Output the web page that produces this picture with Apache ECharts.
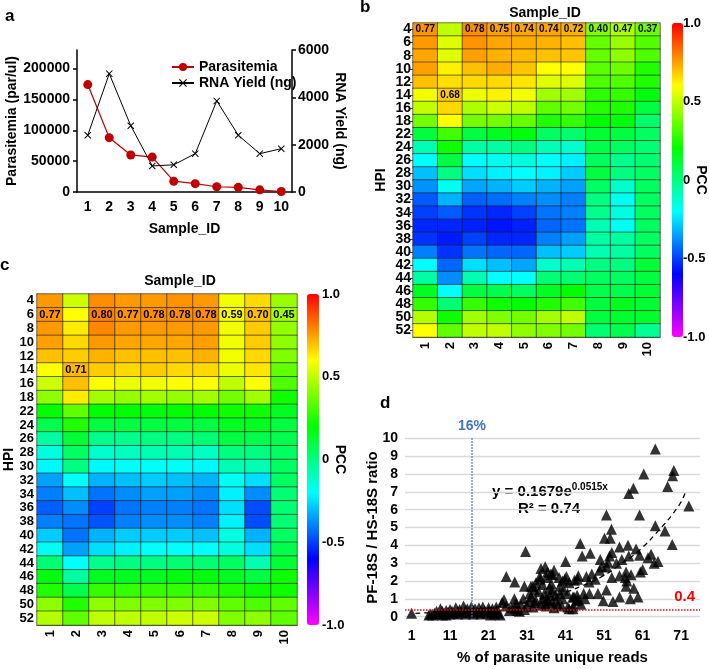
<!DOCTYPE html>
<html><head><meta charset="utf-8">
<script src="https://cdn.jsdelivr.net/npm/echarts@6/dist/echarts.min.js"></script>
<style>html,body{margin:0;padding:0;background:#fff}#c{width:709px;height:669px}</style>
</head><body><div id="c"></div>
<script>
const FONT = '"Liberation Sans", Arial, sans-serif';

// ---------- Panel a ----------
const sampleIds = ['1','2','3','4','5','6','7','8','9','10'];
const parasitemia = [174000, 88000, 60000, 56500, 17500, 13500, 8500, 7500, 3500, 800];
const rnaYield = [2400, 5000, 2800, 1100, 1150, 1620, 3850, 2400, 1620, 1830];
const leftTicks = [0, 50000, 100000, 150000, 200000];

// ---------- Heatmaps ----------
const hpiLabels = ['4','6','8','10','12','14','16','18','22','24','26','28','30','32','34','36','38','40','42','44','46','48','50','52'];
const pccB = [
 [0.77,0.50,0.78,0.75,0.74,0.74,0.72,0.40,0.47,0.37],
 [0.76,0.55,0.77,0.74,0.73,0.72,0.70,0.36,0.44,0.33],
 [0.74,0.55,0.75,0.72,0.71,0.70,0.69,0.36,0.42,0.32],
 [0.75,0.62,0.70,0.73,0.69,0.60,0.60,0.34,0.37,0.25],
 [0.70,0.65,0.66,0.66,0.64,0.55,0.55,0.32,0.32,0.25],
 [0.58,0.68,0.57,0.62,0.58,0.45,0.45,0.27,0.28,0.18],
 [0.50,0.66,0.47,0.52,0.50,0.35,0.38,0.26,0.25,0.10],
 [0.38,0.60,0.38,0.38,0.36,0.25,0.28,0.20,0.18,0.03],
 [0.10,0.30,0.10,0.15,0.18,0.05,0.03,0.12,0.10,0.05],
 [-0.08,0.22,-0.05,-0.05,0.00,-0.08,-0.12,0.08,0.05,0.02],
 [-0.20,0.10,-0.20,-0.18,-0.15,-0.20,-0.22,0.05,-0.02,0.02],
 [-0.30,0.00,-0.25,-0.22,-0.20,-0.22,-0.28,0.10,0.00,0.05],
 [-0.37,-0.18,-0.34,-0.32,-0.28,-0.32,-0.35,0.05,-0.12,0.05],
 [-0.46,-0.32,-0.45,-0.43,-0.40,-0.38,-0.40,0.00,-0.18,0.05],
 [-0.50,-0.46,-0.52,-0.54,-0.50,-0.42,-0.40,-0.02,-0.15,0.05],
 [-0.54,-0.54,-0.55,-0.57,-0.55,-0.44,-0.42,-0.08,-0.18,0.05],
 [-0.52,-0.56,-0.50,-0.54,-0.54,-0.40,-0.35,-0.05,-0.05,0.05],
 [-0.40,-0.52,-0.42,-0.44,-0.44,-0.30,-0.28,-0.08,-0.05,0.05],
 [-0.20,-0.44,-0.25,-0.30,-0.34,-0.12,-0.08,0.00,0.00,0.12],
 [-0.05,-0.38,-0.08,-0.20,-0.20,0.02,0.02,0.05,0.05,0.10],
 [0.15,-0.20,0.10,0.08,0.05,0.15,0.20,0.08,0.08,0.12],
 [0.28,0.02,0.28,0.22,0.20,0.25,0.30,0.10,0.15,0.12],
 [0.48,0.22,0.45,0.40,0.38,0.46,0.50,0.10,0.13,0.13],
 [0.60,0.35,0.50,0.50,0.42,0.40,0.38,0.02,0.08,-0.03]
];
const labelCellsB = [[0,0],[2,0],[3,0],[4,0],[5,0],[6,0],[7,0],[8,0],[9,0],[1,5]];

const pccC = [
 [0.76,0.52,0.78,0.76,0.76,0.77,0.76,0.58,0.66,0.44],
 [0.77,0.60,0.80,0.77,0.78,0.78,0.78,0.59,0.70,0.45],
 [0.76,0.63,0.79,0.76,0.76,0.76,0.76,0.58,0.68,0.43],
 [0.75,0.66,0.76,0.74,0.74,0.74,0.75,0.58,0.68,0.42],
 [0.70,0.68,0.72,0.70,0.70,0.70,0.72,0.58,0.66,0.40],
 [0.60,0.71,0.68,0.66,0.68,0.66,0.66,0.57,0.64,0.35],
 [0.52,0.70,0.60,0.57,0.58,0.60,0.60,0.50,0.60,0.32],
 [0.42,0.63,0.45,0.43,0.45,0.43,0.45,0.38,0.45,0.22],
 [0.20,0.35,0.20,0.20,0.18,0.20,0.20,0.22,0.22,0.15],
 [0.08,0.25,0.10,0.10,0.10,0.10,0.10,0.15,0.15,0.10],
 [-0.05,0.12,-0.02,-0.02,0.00,0.00,0.02,0.10,0.08,0.08],
 [-0.15,0.05,-0.12,-0.10,-0.08,-0.08,-0.10,0.00,0.00,0.05],
 [-0.21,0.00,-0.21,-0.19,-0.19,-0.19,-0.21,-0.08,-0.08,0.05],
 [-0.35,-0.20,-0.32,-0.30,-0.28,-0.30,-0.32,-0.18,-0.25,0.05],
 [-0.40,-0.30,-0.42,-0.38,-0.35,-0.35,-0.38,-0.22,-0.38,0.02],
 [-0.45,-0.38,-0.50,-0.42,-0.40,-0.40,-0.42,-0.25,-0.48,0.02],
 [-0.40,-0.42,-0.47,-0.40,-0.38,-0.38,-0.40,-0.22,-0.48,0.02],
 [-0.28,-0.42,-0.32,-0.28,-0.28,-0.28,-0.30,-0.15,-0.32,0.05],
 [-0.18,-0.35,-0.25,-0.22,-0.20,-0.20,-0.20,-0.15,-0.25,0.08],
 [0.02,-0.20,-0.02,0.00,0.00,0.02,0.02,0.05,-0.08,0.12],
 [0.18,-0.05,0.15,0.15,0.15,0.18,0.18,0.15,0.10,0.22],
 [0.25,0.08,0.28,0.28,0.28,0.28,0.28,0.25,0.22,0.22],
 [0.42,0.25,0.42,0.40,0.40,0.40,0.40,0.35,0.32,0.35],
 [0.48,0.35,0.50,0.50,0.50,0.52,0.52,0.40,0.42,0.35]
];
const labelCellsC = [[0,1],[2,1],[3,1],[4,1],[5,1],[6,1],[7,1],[8,1],[9,1],[1,5]];
const pccColors = ['#ff00ff','#8000ff','#0000ff','#0080ff','#00ffff','#00ff80','#00ff00','#80ff00','#ffff00','#ff8000','#ff0000'];

// ---------- Panel d ----------
const scatterPts = [
 [1,0.2],[5.5,0.1],[6,0.15],[6.5,0.1],[7,0.2],[7.5,0.3],[8,0.15],[8.5,0.45],[9,0.1],[9,0.3],[9.5,0.2],
 [10,0.35],[10,0.1],[10.5,0.25],[11,0.4],[11,0.15],[11.5,0.3],[12,0.2],[12.5,0.5],[13,0.3],[13,0.15],
 [13.5,0.4],[14,0.25],[14.5,0.6],[15,0.35],[15,0.15],[15.5,0.45],[16,0.25],[16.5,0.55],[17,0.35],[17,0.15],
 [17.5,0.45],[18,0.25],[18.5,0.5],[19,0.3],[19,0.15],[19.5,0.55],[20,0.35],[20.5,0.2],[21,0.5],[21,0.3],
 [21.5,0.1],[22,0.45],[22,0.25],[22.5,0.15],[23,0.55],[23,0.35],[23.5,0.2],[24,0.1],[24.5,0.8],[25,0.95],[25.5,0.6],
 [25.6,2.25],[27.8,1.95],[30.6,3.65],[26.4,0.35],[27.7,1.0],[28.1,0.75],[28.5,0.35],[29.4,0.65],[30.3,0.4],[29,0.3],
 [30,1.0],[30.3,1.7],[31.6,0.85],[31.7,1.3],[32,1.7],[32.5,1.7],[33,1.5],[33.3,0.9],[33.3,1.9],[34.3,2.25],[34.4,2.1],
 [34.6,2.7],[34.6,0.65],[35,1.0],[35,1.8],[35.5,1.3],[35.7,2.8],[35.8,0.75],[36.3,2.5],[36.8,1.6],[37.2,2.4],[37.3,1.85],
 [37.5,0.8],[37.7,2.35],[38.4,1.2],[38,0.5],[39.3,2.2],[39.5,1.3],[40.2,2.0],[40.2,1.0],[41,3.1],[41.2,2.25],[41.5,1.3],
 [41.6,0.55],[41.9,1.9],[41.9,0.45],[42.9,1.1],[42.9,0.45],[43.2,1.1],[43.3,2.05],[43.9,0.9],[44.1,2.1],[44.2,0.95],
 [44.3,2.3],[44.8,4.1],[45.3,3.4],[45.7,1.3],[46.4,2.25],[47.1,1.95],[47.2,1.3],[47.4,3.55],[47.8,2.4],[48.7,2.1],
 [49.4,1.3],[49.8,2.6],[50,3.2],[50.4,2.8],[50.8,0.9],[51.1,4.4],[51.6,5.7],[51.6,1.5],[51.7,2.8],[52,3.05],[52.4,3.4],
 [52.6,4.4],[52.9,4.9],[53,3.6],[53,2.2],[53.3,0.85],[54.2,3.0],[55,3.9],[55,2.3],[55,1.1],[55.6,3.2],[56.5,2.2],
 [56.7,2.5],[56.7,1.7],[56.9,2.0],[57.2,4.0],[57.4,6.9],[57.4,3.4],[57.8,1.0],[58,2.35],[58.6,7.2],[58.7,1.6],
 [59.3,3.8],[59.8,1.1],[60.2,5.7],[60.2,3.45],[60.4,2.5],[61,2.65],[61.3,8.0],[62.4,3.3],[63.2,3.5],[64,3.0],
 [64.3,9.4],[64.3,5.1],[65,3.1],[66.8,4.8],[67.5,7.3],[68.7,4.05],[68.8,7.9],[69.1,8.2],[73,6.2],
 [36,1.0],[36.5,0.9],[37,1.2],[38.5,0.9],[39,0.7],[40,0.6],[40.5,1.5],[43,0.6],[44,1.2],[45,0.7],[46,1.0],
 [34,1.4],[33,0.8],[32,1.1],[36,0.6],[37.5,1.5],[39.5,1.7],[40.8,2.1],[38,2.6],[36,2.2],[27,0.5],[28,0.45],[31,0.6],[32.5,0.55]
];
const trendX = [2,5,10,15,20,25,30,35,40,45,50,55,60,65,70,72];
const trendY = [0.19,0.22,0.28,0.36,0.47,0.61,0.78,1.0,1.3,1.7,2.2,2.9,3.7,4.8,6.1,6.9];
const xTickLabels = [1,11,21,31,41,51,61,71];

function heatData(rows){ const d=[]; rows.forEach((r,yi)=>r.forEach((v,xi)=>d.push([xi,yi,v]))); return d; }
function labelFmt(cells){ const s=new Set(cells.map(c=>c[0]+','+c[1])); return p => s.has(p.data[0]+','+p.data[1]) ? p.data[2].toFixed(2) : ''; }
const bold = (size, color) => ({fontFamily: FONT, fontWeight: 'bold', fontSize: size, color: color || '#000'});
const XPATH = 'path://M0,1L1,0L5,4L9,0L10,1L6,5L10,9L9,10L5,6L1,10L0,9L4,5Z';
const plain = v => String(v);
const pccFmt = v => v === 0 ? '0' : v.toFixed(1);

const chart = echarts.init(document.getElementById('c'));
chart.setOption({
  animation: false,
  backgroundColor: '#fff',
  textStyle: {fontFamily: FONT},
  grid: [
    {left: 77, top: 50, width: 215, height: 142},
    {left: 413, top: 23, width: 247, height: 314},
    {left: 672, top: 23, width: 11, height: 314},
    {left: 37, top: 294, width: 260, height: 331},
    {left: 307, top: 294, width: 12, height: 331},
    {left: 405, top: 438.3, width: 295, height: 178.4}
  ],
  legend: {
    left: 166, top: 55, orient: 'vertical', itemWidth: 22, itemHeight: 10, itemGap: 2,
    textStyle: bold(14), data: ['Parasitemia', 'RNA Yield (ng)']
  },
  xAxis: [
    {gridIndex: 0, type: 'category', data: sampleIds, boundaryGap: true,
     axisLine: {lineStyle: {color: '#000', width: 1.5}}, axisTick: {alignWithLabel: true, length: 4, lineStyle: {width: 1.5}},
     axisLabel: Object.assign(bold(14), {margin: 8, interval: 0}),
     name: 'Sample_ID', nameLocation: 'middle', nameGap: 30, nameMoveOverlap: false, nameTextStyle: bold(14)},
    {gridIndex: 1, type: 'category', data: sampleIds, axisLine: {lineStyle: {color: '#666'}}, axisTick: {show: false},
     axisLabel: Object.assign(bold(13), {rotate: 90, margin: 5, interval: 0})},
    {gridIndex: 2, type: 'value', show: false},
    {gridIndex: 3, type: 'category', data: sampleIds, axisLine: {lineStyle: {color: '#666'}}, axisTick: {show: false},
     axisLabel: Object.assign(bold(13), {rotate: 90, margin: 5, interval: 0})},
    {gridIndex: 4, type: 'value', show: false},
    {gridIndex: 5, type: 'value', min: -0.7, max: 75.9, axisLine: {show: false}, axisTick: {show: false}, splitLine: {show: false},
     axisLabel: Object.assign(bold(14), {customValues: xTickLabels, margin: 12}),
     name: '% of parasite unique reads', nameLocation: 'middle', nameGap: 34, nameMoveOverlap: false, nameTextStyle: bold(15)}
  ],
  yAxis: [
    {gridIndex: 0, type: 'value', min: 0, max: 230000, position: 'left',
     axisLine: {show: true, lineStyle: {color: '#000', width: 1.5}},
     axisTick: {show: true, customValues: leftTicks, length: 4, lineStyle: {width: 1.5}},
     axisLabel: Object.assign(bold(14), {customValues: leftTicks, margin: 7, formatter: plain}), splitLine: {show: false},
     name: 'Parasitemia (par/ul)', nameLocation: 'middle', nameGap: 58, nameMoveOverlap: false, nameTextStyle: bold(14)},
    {gridIndex: 0, type: 'value', min: 0, max: 6000, interval: 2000, position: 'right',
     axisLine: {show: true, lineStyle: {color: '#000', width: 1.5}}, axisTick: {show: true, length: 4, lineStyle: {width: 1.5}},
     axisLabel: Object.assign(bold(14), {margin: 6, formatter: plain}), splitLine: {show: false},
     name: 'RNA Yield (ng)', nameLocation: 'middle', nameGap: 41, nameRotate: -90, nameMoveOverlap: false, nameTextStyle: bold(14)},
    {gridIndex: 1, type: 'category', data: hpiLabels, inverse: true,
     axisLine: {lineStyle: {color: '#666'}}, axisTick: {show: true, length: 3, alignWithLabel: true, interval: 0, lineStyle: {color: '#444'}},
     axisLabel: Object.assign(bold(14), {margin: 2, interval: 0}),
     name: 'HPI', nameLocation: 'middle', nameGap: 25, nameRotate: 90, nameMoveOverlap: false, nameTextStyle: bold(14)},
    {gridIndex: 2, type: 'value', min: -1, max: 1, interval: 0.5, position: 'right',
     axisLine: {show: false}, axisTick: {show: false}, splitLine: {show: false},
     axisLabel: Object.assign(bold(13), {margin: 3, formatter: pccFmt}),
     name: 'PCC', nameLocation: 'middle', nameGap: 14, nameRotate: -90, nameMoveOverlap: false, nameTextStyle: bold(14)},
    {gridIndex: 3, type: 'category', data: hpiLabels, inverse: true,
     axisLine: {lineStyle: {color: '#666'}}, axisTick: {show: false},
     axisLabel: Object.assign(bold(13), {margin: 3, interval: 0}),
     name: 'HPI', nameLocation: 'middle', nameGap: 21, nameRotate: 90, nameMoveOverlap: false, nameTextStyle: bold(14)},
    {gridIndex: 4, type: 'value', min: -1, max: 1, interval: 0.5, position: 'right',
     axisLine: {show: false}, axisTick: {show: false}, splitLine: {show: false},
     axisLabel: Object.assign(bold(13), {margin: 3, formatter: pccFmt}),
     name: 'PCC', nameLocation: 'middle', nameGap: 14, nameRotate: -90, nameMoveOverlap: false, nameTextStyle: bold(14)},
    {gridIndex: 5, type: 'value', min: 0, max: 10, interval: 1,
     axisLine: {show: false}, axisTick: {show: false},
     splitLine: {lineStyle: {color: '#d9d9d9', width: 1.3}},
     axisLabel: Object.assign(bold(14), {margin: 7}),
     name: 'PF-18S / HS-18S ratio', nameLocation: 'middle', nameGap: 25, nameMoveOverlap: false, nameTextStyle: bold(15)}
  ],
  visualMap: [
    {type: 'continuous', min: -1, max: 1, seriesIndex: 2, calculable: false, show: true,
     left: 672, top: 23, itemWidth: 11, itemHeight: 314, padding: 0, text: null, inRange: {color: pccColors}},
    {type: 'continuous', min: -1, max: 1, seriesIndex: 3, calculable: false, show: true,
     left: 307, top: 294, itemWidth: 12, itemHeight: 331, padding: 0, text: null, inRange: {color: pccColors}}
  ],
  series: [
    {name: 'Parasitemia', type: 'line', xAxisIndex: 0, yAxisIndex: 0, data: parasitemia,
     symbol: 'circle', symbolSize: 9, color: '#c00000', lineStyle: {width: 1.2, color: '#c00000'}, itemStyle: {color: '#c00000'}},
    {name: 'RNA Yield (ng)', type: 'line', xAxisIndex: 0, yAxisIndex: 1, data: rnaYield,
     symbol: XPATH, symbolSize: 7, color: '#000', lineStyle: {width: 1, color: '#000'}, itemStyle: {color: '#000'}},
    {type: 'heatmap', xAxisIndex: 1, yAxisIndex: 2, data: heatData(pccB),
     itemStyle: {borderColor: '#1a1a1a', borderWidth: 0.6},
     label: {show: true, formatter: labelFmt(labelCellsB), fontFamily: FONT, fontWeight: 'bold', fontSize: 10, color: '#000'},
     emphasis: {disabled: true}},
    {type: 'heatmap', xAxisIndex: 3, yAxisIndex: 4, data: heatData(pccC),
     itemStyle: {borderColor: '#1a1a1a', borderWidth: 0.6},
     label: {show: true, formatter: labelFmt(labelCellsC), fontFamily: FONT, fontWeight: 'bold', fontSize: 11, color: '#000'},
     emphasis: {disabled: true}},
    {type: 'scatter', xAxisIndex: 5, yAxisIndex: 6, data: scatterPts, symbol: 'triangle', symbolSize: 11,
     itemStyle: {color: '#000'},
     markLine: {silent: true, symbol: 'none', data: [
       {xAxis: 16.7, lineStyle: {color: '#4472c4', type: 'dotted', width: 1.5},
        label: {show: true, position: 'end', formatter: '16%', color: '#4472c4', fontFamily: FONT, fontWeight: 'bold', fontSize: 14}},
       {yAxis: 0.4, lineStyle: {color: '#ff0000', type: 'dotted', width: 1.5},
        label: {show: true, position: 'insideEndTop', formatter: '0.4', color: '#ff0000', fontFamily: FONT, fontWeight: 'bold', fontSize: 15}}
     ]}},
    {type: 'line', xAxisIndex: 5, yAxisIndex: 6, data: trendX.map((x,i)=>[x, trendY[i]]), smooth: true, showSymbol: false,
     lineStyle: {color: '#000', type: [5,4], width: 1.3}, silent: true, z: 3}
  ],
  graphic: [
    {type: 'text', left: 5, top: 8, style: {text: 'a', font: 'bold 17px ' + FONT, fill: '#000'}},
    {type: 'text', left: 360, top: -1, style: {text: 'b', font: 'bold 17px ' + FONT, fill: '#000'}},
    {type: 'text', left: 0, top: 257, style: {text: 'c', font: 'bold 17px ' + FONT, fill: '#000'}},
    {type: 'text', left: 380, top: 395, style: {text: 'd', font: 'bold 17px ' + FONT, fill: '#000'}},
    {type: 'text', x: 545, y: 13, style: {text: 'Sample_ID', font: 'bold 14px ' + FONT, fill: '#000', textAlign: 'center', textVerticalAlign: 'middle'}},
    {type: 'text', x: 180, y: 281, style: {text: 'Sample_ID', font: 'bold 14px ' + FONT, fill: '#000', textAlign: 'center', textVerticalAlign: 'middle'}},
    {type: 'text', x: 550, y: 492, style: {text: '{a|y = 0.1679e}{s|0.0515x}', textAlign: 'center', textVerticalAlign: 'middle',
      rich: {a: {font: 'bold 15px ' + FONT, fill: '#000'}, s: {font: 'bold 10px ' + FONT, fill: '#000', padding: [0,0,9,0]}}}},
    {type: 'text', x: 549, y: 509, style: {text: 'R² = 0.74', font: 'bold 15px ' + FONT, fill: '#000', textAlign: 'center', textVerticalAlign: 'middle'}}
  ]
});
</script></body></html>
